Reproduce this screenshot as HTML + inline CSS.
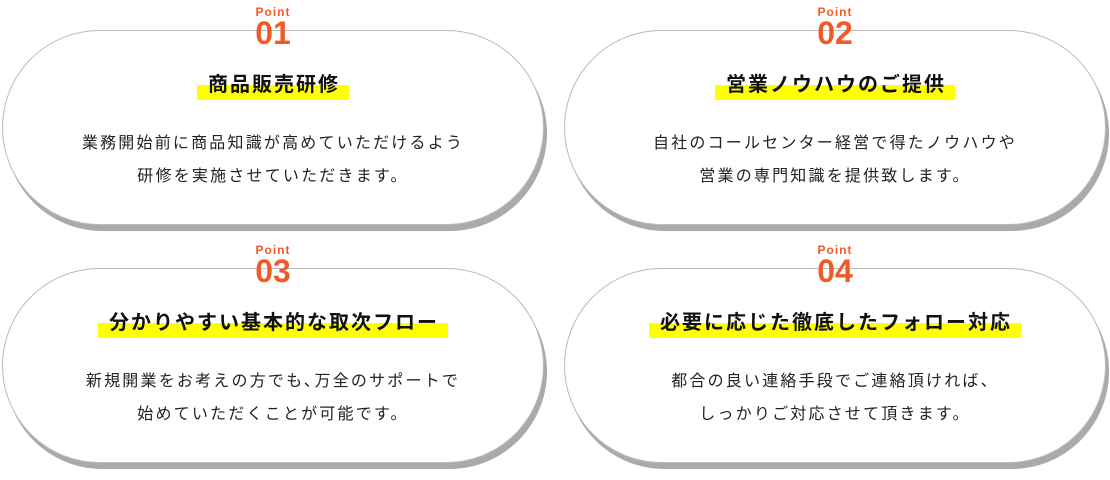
<!DOCTYPE html>
<html><head><meta charset="utf-8"><style>
body{margin:0;width:1110px;height:480px;background:#fff;position:relative;overflow:hidden;font-family:"Liberation Sans","Noto Sans CJK JP",sans-serif;}
.card{position:absolute;width:542px;height:195px;box-sizing:border-box;border:1px solid #bbb;border-radius:100px;background:#fff;box-shadow:3px 6px 0 #aaa;}
.pt{position:absolute;left:0;right:0;text-align:center;color:#f05a28;font-weight:bold;}
.pl{top:-26px;font-size:12px;letter-spacing:1px;}
.pn{top:-16px;font-size:32px;line-height:36px;}
.ttl{position:absolute;left:0;right:0;top:39px;text-align:center;}
.ttl span{display:inline-block;font-size:20px;font-weight:bold;letter-spacing:2px;color:#111;padding:0 9px 0 11px;line-height:30px;background:linear-gradient(transparent 50%,#ffff00 50%);}
.body{position:absolute;left:0;right:0;top:96px;text-align:center;font-size:16px;letter-spacing:2.2px;line-height:33px;color:#222;}
</style></head><body>
<div class="card" style="left:2px;top:30px">
<div class="pt pl">Point</div><div class="pt pn">01</div>
<div class="ttl"><span>商品販売研修</span></div>
<div class="body">業務開始前に商品知識が高めていただけるよう<br>研修を実施させていただきます。</div></div>
<div class="card" style="left:564px;top:30px">
<div class="pt pl">Point</div><div class="pt pn">02</div>
<div class="ttl"><span>営業ノウハウのご提供</span></div>
<div class="body">自社のコールセンター経営で得たノウハウや<br>営業の専門知識を提供致します。</div></div>
<div class="card" style="left:2px;top:268px">
<div class="pt pl">Point</div><div class="pt pn">03</div>
<div class="ttl"><span>分かりやすい基本的な取次フロー</span></div>
<div class="body">新規開業をお考えの方でも､万全のサポートで<br>始めていただくことが可能です。</div></div>
<div class="card" style="left:564px;top:268px">
<div class="pt pl">Point</div><div class="pt pn">04</div>
<div class="ttl"><span>必要に応じた徹底したフォロー対応</span></div>
<div class="body">都合の良い連絡手段でご連絡頂ければ、<br>しっかりご対応させて頂きます。</div></div>
</body></html>
